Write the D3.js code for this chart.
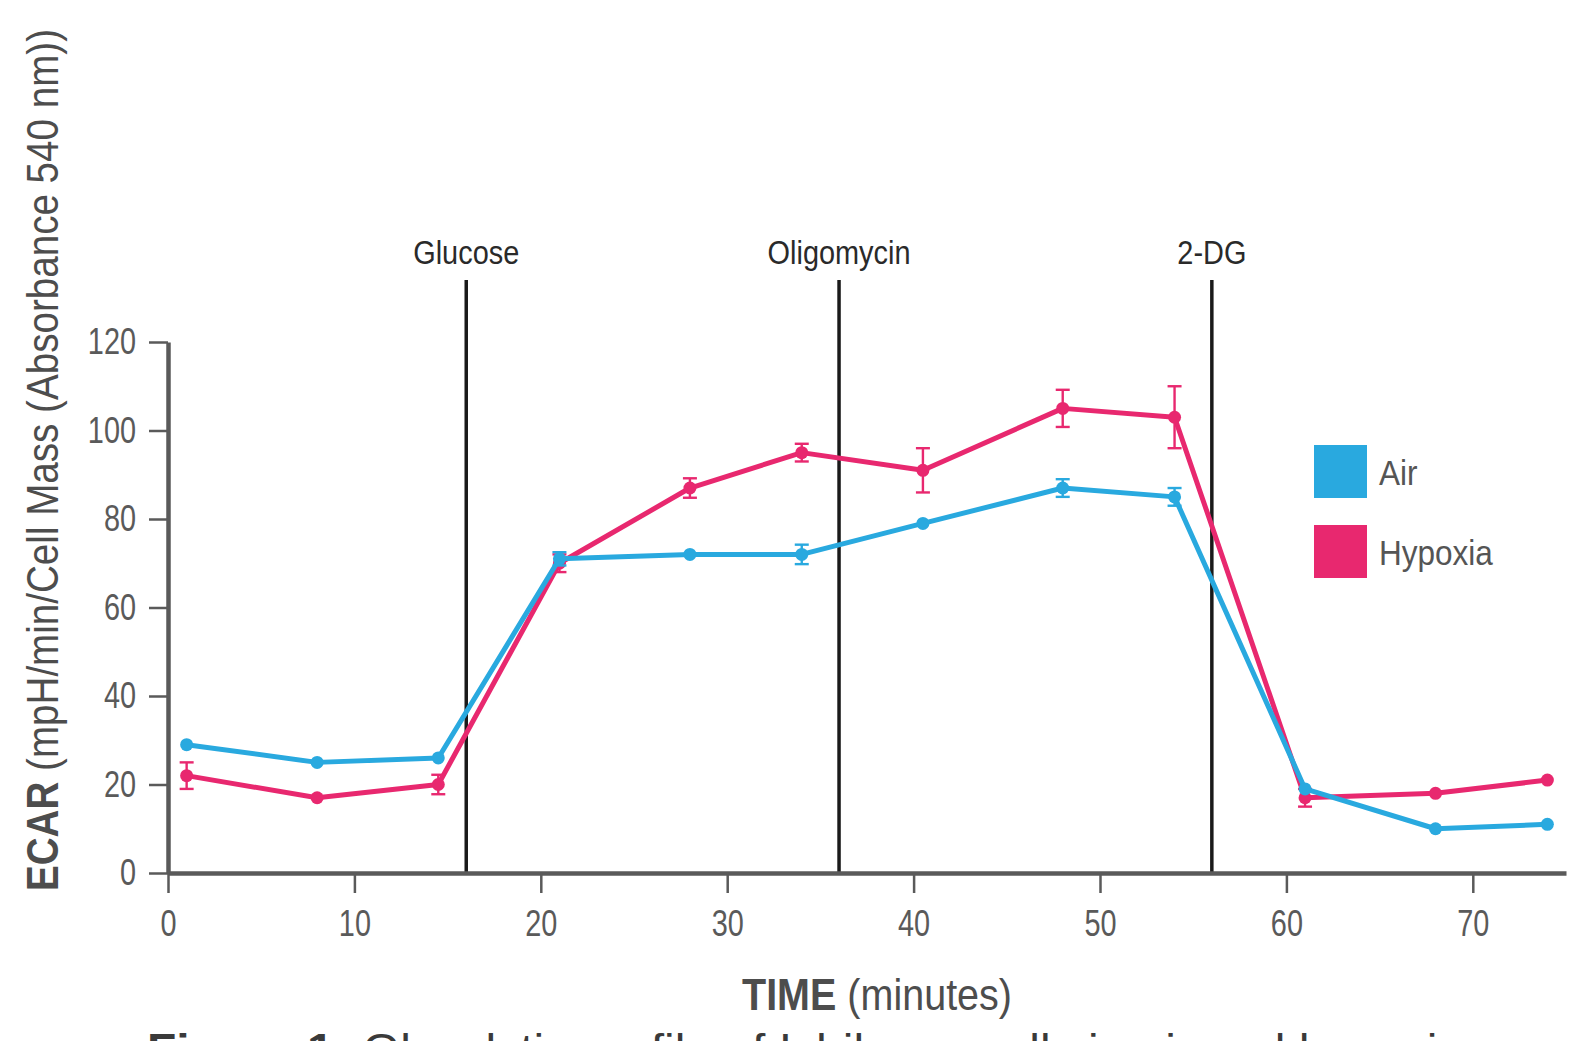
<!DOCTYPE html>
<meta charset="utf-8">
<script src="https://d3js.org/d3.v7.min.js"></script>
<style>
  body { margin: 0; background: #fff; }
  svg text { font-family: "Liberation Sans", Arimo, sans-serif; }
</style>
<div id="chart"></div>
<script>
// data
const times = [1, 8, 14.5, 21, 28, 34, 40.5, 48, 54, 61, 68, 74];
const airValues = [29, 25, 26, 71, 72, 72, 79, 87, 85, 19, 10, 11];
const airErrors = [0, 0, 0, 1.5, 0, 2.2, 0, 2, 2, 0, 0, 0];
const hypoxiaValues = [22, 17, 20, 70, 87, 95, 91, 105, 103, 17, 18, 21];
const hypoxiaErrors = [3, 0, 2.2, 2, 2.2, 2, 5, 4.2, 7, 2, 0, 0];
const xTicks = [0, 10, 20, 30, 40, 50, 60, 70];
const yTicks = [0, 20, 40, 60, 80, 100, 120];
const injectionTimes = [16, 36, 56];
const injectionLabels = ["Glucose", "Oligomycin", "2-DG"];
const seriesNames = ["Air", "Hypoxia"];
const seriesColors = ["#29a9df", "#e8286f"];

const width = 1594, height = 1041;
const svg = d3.select("#chart").append("svg")
    .attr("width", width)
    .attr("height", height);

// squeeze text horizontally to look like the condensed face of the original
function condense(sel, factor) {
    sel.each(function () {
        const w = this.getComputedTextLength();
        d3.select(this)
            .attr("textLength", w * factor)
            .attr("lengthAdjust", "spacingAndGlyphs");
    });
}

const x = d3.scaleLinear().domain([0, 75]).range([168, 1566]);
const y = d3.scaleLinear().domain([0, 120]).range([873, 342]);

// injection lines
const inj = svg.append("g");
inj.selectAll("line")
    .data(injectionTimes)
    .join("line")
    .attr("x1", d => x(d)).attr("x2", d => x(d))
    .attr("y1", 280).attr("y2", y(0))
    .attr("stroke", "#1a1a1a")
    .attr("stroke-width", 3.5);
inj.selectAll("text")
    .data(injectionTimes)
    .join("text")
    .attr("x", d => x(d))
    .attr("y", 264)
    .attr("text-anchor", "middle")
    .attr("font-size", "34px")
    .attr("fill", "#2a2a2a")
    .text((d, i) => injectionLabels[i])
    .call(condense, 0.85);

// axes
const xAxis = svg.append("g")
    .attr("transform", `translate(0, ${y(0)})`)
    .call(d3.axisBottom(x).tickValues(xTicks).tickSize(20).tickSizeOuter(0).tickPadding(17));
const yAxis = svg.append("g")
    .attr("transform", `translate(${x(0)}, 0)`)
    .call(d3.axisLeft(y).tickValues(yTicks).tickSize(19).tickSizeOuter(0).tickPadding(13));

[xAxis, yAxis].forEach(g => {
    g.select(".domain").attr("stroke", "#5a5a5a").attr("stroke-width", 4.5);
    g.selectAll(".tick line").attr("stroke", "#5a5a5a").attr("stroke-width", 2.5);
    g.selectAll(".tick text")
        .attr("fill", "#5a5a5a")
        .style("font-size", "37px")
        .style("font-family", "'Liberation Sans', Arimo, sans-serif")
        .call(condense, 0.78);
});

// series
const series = [
    { name: seriesNames[1], color: seriesColors[1], values: hypoxiaValues, errors: hypoxiaErrors },
    { name: seriesNames[0], color: seriesColors[0], values: airValues, errors: airErrors }
];

const line = d3.line()
    .x(d => x(d.t))
    .y(d => y(d.v));

series.forEach(s => {
    const pts = times.map((t, i) => ({ t: t, v: s.values[i], e: s.errors[i] }));
    const g = svg.append("g");
    g.append("path")
        .datum(pts)
        .attr("d", line)
        .attr("fill", "none")
        .attr("stroke", s.color)
        .attr("stroke-width", 5)
        .attr("stroke-linejoin", "round");

    const eb = g.selectAll(".err")
        .data(pts.filter(d => d.e > 0))
        .join("g")
        .attr("stroke", s.color)
        .attr("stroke-width", 2.4);
    eb.append("line")
        .attr("x1", d => x(d.t)).attr("x2", d => x(d.t))
        .attr("y1", d => y(d.v + d.e)).attr("y2", d => y(d.v - d.e));
    eb.append("line")
        .attr("x1", d => x(d.t) - 7).attr("x2", d => x(d.t) + 7)
        .attr("y1", d => y(d.v + d.e)).attr("y2", d => y(d.v + d.e));
    eb.append("line")
        .attr("x1", d => x(d.t) - 7).attr("x2", d => x(d.t) + 7)
        .attr("y1", d => y(d.v - d.e)).attr("y2", d => y(d.v - d.e));

    g.selectAll("circle")
        .data(pts)
        .join("circle")
        .attr("cx", d => x(d.t))
        .attr("cy", d => y(d.v))
        .attr("r", 6.5)
        .attr("fill", s.color);
});

// legend
const legend = svg.append("g");
seriesNames.forEach((name, i) => {
    legend.append("rect")
        .attr("x", 1314).attr("y", 445 + i * 80)
        .attr("width", 53).attr("height", 53)
        .attr("fill", seriesColors[i]);
    legend.append("text")
        .attr("x", 1379).attr("y", 485 + i * 80)
        .attr("font-size", "35px")
        .attr("fill", "#555")
        .text(name)
        .call(condense, 0.9);
});

// axis titles
const xt = svg.append("text")
    .attr("x", 877).attr("y", 1010)
    .attr("text-anchor", "middle")
    .attr("font-size", "44px")
    .attr("fill", "#4d4d4d")
    .attr("textLength", 270)
    .attr("lengthAdjust", "spacingAndGlyphs");
xt.append("tspan").attr("font-weight", "bold").text("TIME");
xt.append("tspan").text(" (minutes)");

const yt = svg.append("text")
    .attr("transform", "translate(58, 460) rotate(-90)")
    .attr("text-anchor", "middle")
    .attr("font-size", "44px")
    .attr("fill", "#4d4d4d")
    .attr("textLength", 862)
    .attr("lengthAdjust", "spacingAndGlyphs");
yt.append("tspan").attr("font-weight", "bold").text("ECAR");
yt.append("tspan").text(" (mpH/min/Cell Mass (Absorbance 540 nm))");

// figure caption, cut by the bottom edge as in the source
const cap = svg.append("text")
    .attr("x", 147).attr("y", 1065)
    .attr("font-size", "44px")
    .attr("fill", "#3a3a3a")
    .attr("textLength", 1317)
    .attr("lengthAdjust", "spacingAndGlyphs");
cap.append("tspan").attr("font-weight", "bold").text("Figure 1:");
cap.append("tspan").text(" Glycolytic profile of Ishikawa cells in air and hypoxia");
</script>
